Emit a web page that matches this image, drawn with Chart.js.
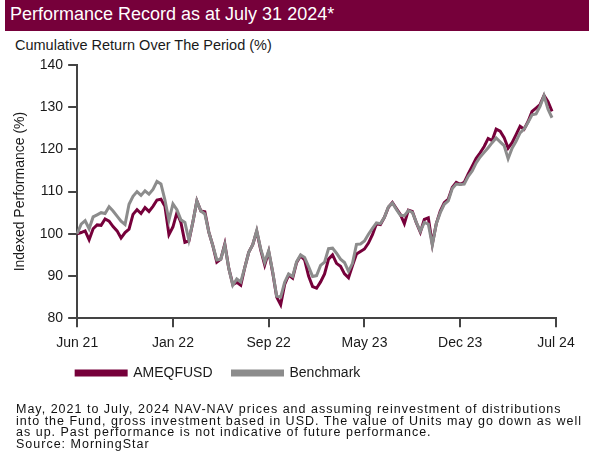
<!DOCTYPE html>
<html>
<head>
<meta charset="utf-8">
<script src="https://cdn.jsdelivr.net/npm/chart.js@4"></script>
<style>
  html, body { margin:0; padding:0; background:#fff; }
  body { width:589px; height:464px; position:relative; overflow:hidden; font-family:"Liberation Sans", Arial, sans-serif; }
  #titlebar { position:absolute; left:5px; top:0; width:584px; height:31px; background:#76003a; }
  #titlebar span { position:absolute; left:5px; top:4px; color:#fff; font-size:18px; white-space:nowrap; }
  #subtitle { position:absolute; left:15px; top:37px; font-size:14.5px; color:#1a1a1a; white-space:nowrap; }
  #wrap { position:absolute; left:0; top:50px; width:589px; height:354px; }
  #footer { position:absolute; left:16px; top:404px; width:580px; font-size:12.5px; letter-spacing:1px; line-height:11.5px; color:#111; white-space:nowrap; }
</style>
</head>
<body>
<div id="titlebar"><span>Performance Record as at July 31 2024*</span></div>
<div id="subtitle">Cumulative Return Over The Period (%)</div>
<div id="wrap"><canvas id="c"></canvas></div>
<div id="footer">May, 2021 to July, 2024 NAV-NAV prices and assuming reinvestment of distributions<br>into the Fund, gross investment based in USD. The value of Units may go down as well<br>as up. Past performance is not indicative of future performance.<br>Source: MorningStar</div>
<script>
const tickLabels = ['Jun 21', 'Jan 22', 'Sep 22', 'May 23', 'Dec 23', 'Jul 24'];
const pointsPerTick = 24;
const seriesNames = ['AMEQFUSD', 'Benchmark'];

const fund = [
  100.0, 100.3, 100.7, 98.6, 101.2, 102.1, 102.0, 103.5, 103.0, 101.7,
  100.7, 99.0, 100.3, 101.1, 104.6, 105.7, 104.8, 106.2, 105.3, 106.5,
  108.0, 108.2, 106.5, 99.8, 101.6, 105.0, 102.7, 98.0, 98.3, 102.8,
  107.8, 105.4, 105.2, 100.4, 97.2, 93.3, 94.0, 97.6, 91.8, 88.0,
  88.5, 87.8, 92.0, 95.6, 97.4, 100.6, 96.2, 92.6, 95.8, 90.8,
  85.0, 83.2, 88.0, 90.2, 89.5, 93.2, 94.8, 93.8, 90.0, 87.5,
  87.1, 88.6, 90.5, 94.0, 95.0, 93.0, 92.3, 90.5, 89.6, 92.5,
  95.2, 95.8, 96.4, 97.8, 99.8, 102.4, 102.2, 103.9, 106.3, 107.4,
  106.0, 104.6, 102.4, 105.6, 105.3, 102.6, 100.4, 103.4, 103.8, 97.6,
  102.4, 105.4, 107.4, 108.2, 111.0, 112.2, 111.7, 112.2, 114.2, 116.0,
  117.9, 119.2, 120.7, 122.6, 122.1, 124.8, 124.3, 122.8, 120.3, 121.6,
  123.5, 125.5, 124.8, 126.6, 129.0, 129.8, 130.6, 132.8, 131.3, 129.0,
  null
];

const benchmark = [
  100.0, 102.3, 103.1, 101.2, 104.0, 104.5, 105.0, 104.8, 106.4, 105.4,
  104.2, 103.0, 102.2, 107.0, 108.9, 110.0, 109.1, 110.2, 109.4, 110.5,
  112.4, 111.8, 108.0, 103.2, 107.1, 105.7, 103.3, 102.7, 98.5, 102.8,
  107.8, 105.4, 104.7, 100.4, 97.2, 93.8, 94.0, 97.4, 91.8, 87.8,
  89.3, 88.6, 92.0, 95.6, 97.4, 100.8, 96.4, 93.2, 96.0, 91.0,
  85.2, 85.0, 88.5, 90.5, 89.9, 93.4, 95.0, 94.4, 92.2, 89.9,
  90.1, 92.5, 93.3, 96.5, 96.6, 95.4, 94.0, 93.2, 91.1, 93.0,
  97.5, 97.6, 98.3, 99.9, 101.3, 102.6, 102.4, 103.9, 106.4, 107.3,
  105.8, 104.4, 104.3, 105.5, 105.1, 102.7, 100.6, 102.7, 102.3, 97.3,
  102.4, 105.0, 107.0, 107.8, 110.7, 111.8, 111.7, 111.8, 113.6, 114.9,
  116.8, 118.2, 119.3, 120.4, 121.6, 122.7, 121.8, 120.9, 117.8, 120.3,
  121.9, 123.9, 124.8, 126.4, 128.2, 128.4, 130.2, 132.7, 129.5, 127.5,
  null
];

const yMin = 80, yMax = 140, yStep = 10;

const labels = fund.map((_, i) => i);
const fontFam = '"Liberation Sans", Arial, sans-serif';
const axisColor = '#444';

const legendShift = {
  id: 'legendShift',
  afterLayout(chart) {
    const lg = chart.legend;
    if (!lg) return;
    lg.left -= 21; lg.right -= 21;
    lg.top -= 14; lg.bottom -= 14;
  }
};

new Chart(document.getElementById('c'), {
  type: 'line',
  data: {
    labels: labels,
    datasets: [
      { label: seriesNames[0], data: fund, borderColor: '#76003a', backgroundColor: '#76003a',
        borderWidth: 3, pointRadius: 0, tension: 0, order: 1 },
      { label: seriesNames[1], data: benchmark, borderColor: '#8c8c8c', backgroundColor: '#8c8c8c',
        borderWidth: 3, pointRadius: 0, tension: 0, order: 0 }
    ]
  },
  plugins: [legendShift],
  options: {
    responsive: true,
    maintainAspectRatio: false,
    animation: false,
    layout: { padding: { left: 12, right: 33, top: 15, bottom: 0 } },
    plugins: {
      tooltip: { enabled: false },
      legend: {
        position: 'bottom',
        align: 'start',
        fullSize: false,
        labels: {
          boxWidth: 50, boxHeight: 4, padding: 20,
          color: '#1a1a1a',
          font: { family: fontFam, size: 14 },
          sort: (a, b) => a.datasetIndex - b.datasetIndex
        }
      }
    },
    scales: {
      x: {
        type: 'category',
        offset: false,
        grid: { display: true, drawOnChartArea: false, drawTicks: true, tickLength: 9, color: axisColor, lineWidth: 2 },
        border: { display: true, color: axisColor, width: 2 },
        ticks: {
          autoSkip: false, maxRotation: 0, minRotation: 0, padding: 8,
          color: '#1a1a1a', font: { family: fontFam, size: 14 },
          callback: function(val, idx) {
            return idx % pointsPerTick === 0 ? tickLabels[idx / pointsPerTick] : null;
          }
        }
      },
      y: {
        min: yMin, max: yMax,
        grid: { display: true, drawOnChartArea: false, drawTicks: true, tickLength: 9, color: axisColor, lineWidth: 2 },
        border: { display: true, color: axisColor, width: 2 },
        ticks: { stepSize: yStep, padding: 5, color: '#1a1a1a', font: { family: fontFam, size: 14 } },
        title: { display: true, text: 'Indexed Performance (%)', color: '#1a1a1a', font: { family: fontFam, size: 14 }, padding: { top: 0, bottom: 6 } }
      }
    }
  }
});
</script>
</body>
</html>
